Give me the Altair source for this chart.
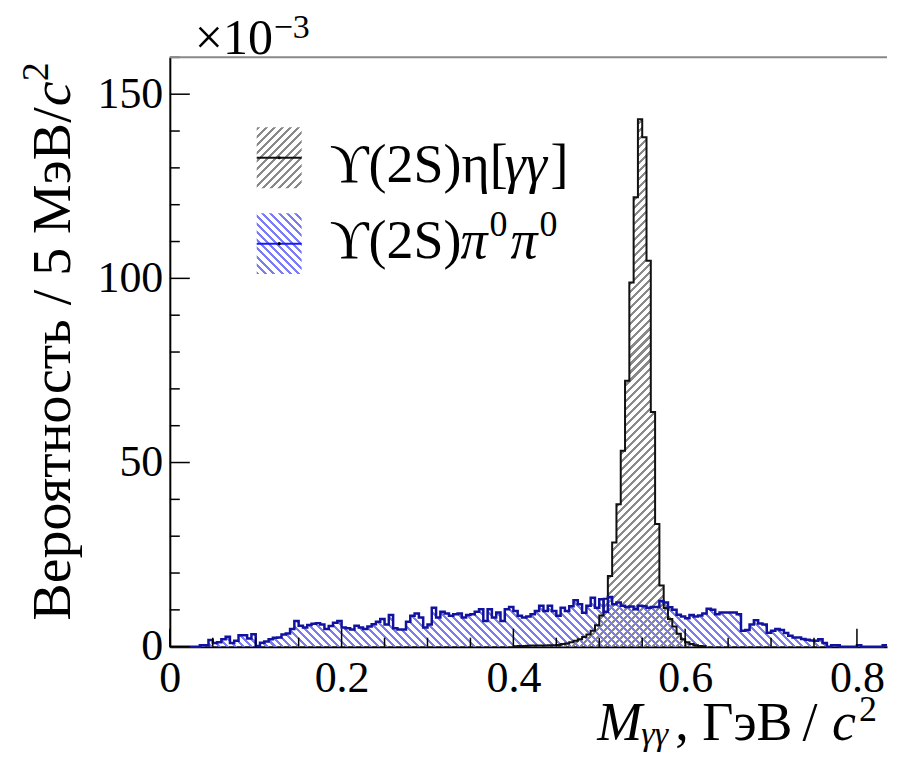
import altair as alt
import pandas as pd

# ---------------- data ----------------
BIN = 0.005  # 5 MeV bins

# Upsilon(2S) pi0 pi0  (blue), bins starting at x = 0
blue_vals = [
    0, 0, 0, 0, 0, 0, 0, 0.4, 0.4, 1.8,
    1.0, 1.2, 2.0, 2.7, 1.0, 1.6, 3.1, 3.1, 2.2, 3.4,
    0.2, 1.1, 1.4, 2.0, 2.4, 2.5, 3.3, 3.6, 4.8, 7.0,
    5.7, 5.2, 5.9, 6.2, 6.4, 6.0, 4.8, 5.6, 6.5, 7.0,
    5.2, 5.0, 4.7, 5.7, 5.2, 4.8, 5.5, 6.1, 6.8, 7.5,
    6.0, 8.6, 5.0, 4.7, 4.7, 6.8, 8.4, 9.0, 7.9, 5.2,
    6.0, 10.6, 7.9, 9.5, 9.0, 8.4, 8.8, 9.0, 7.9, 8.6,
    8.8, 9.5, 10.2, 7.0, 10.2, 7.9, 9.3, 7.0, 10.2, 10.8,
    9.7, 8.4, 7.9, 8.2, 8.8, 9.7, 11.1, 9.7, 11.1, 9.7,
    8.4, 10.6, 9.7, 11.0, 12.6, 11.5, 9.2, 11.1, 13.3, 10.6,
    12.9, 9.5, 13.5, 11.5, 12.0, 11.1, 10.8, 10.9, 10.2, 11.1,
    11.0, 10.6, 10.8, 10.8, 12.4, 12.0, 10.7, 10.0, 8.7, 8.2,
    7.7, 8.6, 8.2, 8.5, 9.0, 10.3, 10.0, 8.8, 9.3, 9.3,
    9.3, 9.3, 8.8, 4.3, 4.5, 6.0, 7.2, 6.3, 6.0, 3.8,
    4.3, 4.8, 4.5, 3.7, 3.0, 2.5, 2.5, 2.1, 1.9, 1.7,
    1.6, 2.0, 1.0, 0, 0.4, 0.4, 0, 0, 0, 0,
    0.4, 0, 0, 0, 0, 0, 0.4,
]
blue_start = 0.0

# Upsilon(2S) eta[gamma gamma]  (black), bins starting at x = 0.400
black_vals = [
    0.15, 0.2, 0.2, 0.25, 0.3, 0.3, 0.35, 0.35, 0.4, 0.4,
    0.45, 0.7, 0.9, 1.2, 1.6, 2.0, 2.6, 3.3, 4.3, 5.8,
    8.5, 13.0, 19.2, 28.3, 38.7, 53.2, 72.2, 98.9, 122.0, 143.2,
    138.3, 104.8, 63.7, 33.3, 16.6, 10.5, 7.5, 5.5, 3.5, 2.0,
    1.2, 0.7, 0.4, 0.2, 0.1,
]
black_start = 0.400

x_major = [0, 0.2, 0.4, 0.6, 0.8]
x_minor = [0.05, 0.1, 0.15, 0.25, 0.3, 0.35, 0.45, 0.5, 0.55, 0.65, 0.7, 0.75]
y_major = [0, 50, 100, 150]
y_minor = [10, 20, 30, 40, 60, 70, 80, 90, 110, 120, 130, 140, 160]

# ---------------- layout / style ----------------
XMAX, YMAX = 0.835, 160
PW, PH = 718, 590
FONT = "Liberation Serif, DejaVu Serif, serif"
BLUE_LINE = "#1212a0"
BLUE_HATCH = "#7c7cf2"
GRAY_HATCH = "#8a8a8a"


def hist_frame(start, vals):
    xs = [start + i * BIN for i in range(len(vals) + 1)]
    ys = list(vals) + [vals[-1]]
    return pd.DataFrame({"x": xs, "y": ys})


def hatch(W, H, color, back, period=8.0, frac=0.38):
    span = W + H
    n = max(1, int(round(span / period)))
    clear = "rgba(255,255,255,0)"
    stops = []
    for i in range(n):
        a, b = i / n, (i + frac) / n
        stops += [
            {"offset": a, "color": clear},
            {"offset": a, "color": color},
            {"offset": b, "color": color},
            {"offset": b, "color": clear},
        ]
    alpha = span / (W * W + H * H)
    if back:  # "\" stripes
        g = {"x1": 0, "y1": 1, "x2": alpha * W, "y2": 1 - alpha * H}
    else:  # "/" stripes
        g = {"x1": 0, "y1": 0, "x2": alpha * W, "y2": alpha * H}
    return {"gradient": "linear", "stops": stops, **g}


blue_df = hist_frame(blue_start, blue_vals)
black_df = hist_frame(black_start, black_vals)

bw = (len(blue_vals) * BIN) / XMAX * PW
bh = max(blue_vals) / YMAX * PH
kw = (len(black_vals) * BIN) / XMAX * PW
kh = max(black_vals) / YMAX * PH

xscale = alt.Scale(domain=[0, XMAX], nice=False, zero=False)
yscale = alt.Scale(domain=[0, YMAX], nice=False, zero=False)

LABEL_SIZE = 44
xaxis = alt.Axis(values=x_major, format="~g", ticks=False, grid=False, title=None,
                 domainColor="black", domainWidth=2, labelFont=FONT, labelFontSize=LABEL_SIZE,
                 labelColor="black", labelPadding=10, labelFlush=False, labelOverlap=False)
yaxis = alt.Axis(values=y_major, format="d", ticks=False, grid=False, title=None,
                 domainColor="black", domainWidth=2, labelFont=FONT, labelFontSize=LABEL_SIZE,
                 labelColor="black", labelPadding=7, labelFlush=False, labelOverlap=False)


def X(field):
    return alt.X(field, type="quantitative", scale=xscale, axis=xaxis)


def Y(field):
    return alt.Y(field, type="quantitative", scale=yscale, axis=yaxis)


blue_area = alt.Chart(blue_df).mark_area(
    interpolate="step-after", fill=hatch(bw, bh, BLUE_HATCH, True), opacity=1
).encode(x=X("x"), y=Y("y"))

black_area = alt.Chart(black_df).mark_area(
    interpolate="step-after", fill=hatch(kw, kh, GRAY_HATCH, False), opacity=1
).encode(x=X("x"), y=Y("y"))

black_line = alt.Chart(black_df).mark_line(
    interpolate="step-after", color="#111111", strokeWidth=2
).encode(x=X("x"), y=Y("y"))

blue_line = alt.Chart(blue_df).mark_line(
    interpolate="step-after", color=BLUE_LINE, strokeWidth=2.5
).encode(x=X("x"), y=Y("y"))


def xticks(vals, length):
    return alt.Chart(pd.DataFrame({"x": vals})).mark_rule(color="black", strokeWidth=1.5).encode(
        x=X("x"), y=alt.value(PH), y2=alt.value(PH - length))


def yticks(vals, length):
    return alt.Chart(pd.DataFrame({"y": vals})).mark_rule(color="black", strokeWidth=1.5).encode(
        y=Y("y"), x=alt.value(0), x2=alt.value(length))


one = alt.Data(values=[{"a": 1}])

top_frame = alt.Chart(one).mark_rule(color="#888888", strokeWidth=2).encode(
    x=alt.value(0), x2=alt.value(PW), y=alt.value(0))


def text(s, x, y, size, align="left", angle=0, style="normal", color="black"):
    return alt.Chart(one).mark_text(
        text=s, font=FONT, fontSize=size, align=align, baseline="alphabetic",
        angle=angle, fontStyle=style, color=color
    ).encode(x=alt.value(x), y=alt.value(y))


# legend
def legend_box(x0, y0, w, h, fill, line_color):
    box = alt.Chart(one).mark_rect(fill=fill).encode(
        x=alt.value(x0), x2=alt.value(x0 + w), y=alt.value(y0), y2=alt.value(y0 + h))
    ln = alt.Chart(one).mark_rule(color=line_color, strokeWidth=2).encode(
        x=alt.value(x0), x2=alt.value(x0 + w), y=alt.value(y0 + h / 2))
    dot = alt.Chart(one).mark_point(filled=True, color="black", size=10, opacity=1).encode(
        x=alt.value(x0 + w / 2), y=alt.value(y0 + h / 2))
    return [box, ln, dot]


LW, LH = 45, 61
L1, L2 = 125, 201  # legend baselines
leg = []
leg += legend_box(87, 70, LW, LH, hatch(LW, LH, GRAY_HATCH, False, period=8), "#111111")
leg += legend_box(87, 156, LW, LH, hatch(LW, LH, BLUE_HATCH, True, period=8), "#1a1aff")
leg += [
    text("ϒ(2S)η[", 160, L1, 54),
    text("γγ", 335, L1, 54, style="italic"),
    text("]", 381, L1, 54),
    text("ϒ(2S)", 160, L2, 54),
    text("π", 291, L2, 54, style="italic"),
    text("0", 320, L2 - 22, 36),
    text("π", 341, L2, 54, style="italic"),
    text("0", 370, L2 - 22, 36),
]

TB = 683  # x-title baseline (plot coordinates)
YT = 24   # where the italic c of the y title ends (plot y)
titles = [
    text("×10", 25, -3, 50),
    text("−3", 104, -19, 34),
    text("Вероятность / 5 МэВ/", -100, YT + 26, 56, align="right", angle=270),
    text("c", -100, YT, 56, align="right", angle=270, style="italic"),
    text("2", -122, YT, 38, align="left", angle=270),
    text("M", 428, TB, 54, style="italic"),
    text("γγ", 472, TB + 5, 34, style="italic"),
    text(", ГэВ", 506, TB, 54),
    text("/", 641, TB, 54, align="center"),
    text("c", 663, TB, 54, style="italic"),
    text("2", 690, TB - 19, 36),
]

chart = alt.layer(
    blue_area, black_area, black_line, blue_line,
    xticks(x_major, 18), xticks(x_minor, 9), yticks(y_major, 20), yticks(y_minor, 10),
    top_frame, *leg, *titles,
).properties(
    width=PW, height=PH,
    padding={"left": 162, "top": 49, "right": 2, "bottom": 107},
    autosize=alt.AutoSizeParams(type="none"),
).configure_view(stroke=None)

chart.save("out.html", embed_options={"renderer": "svg", "actions": False})
